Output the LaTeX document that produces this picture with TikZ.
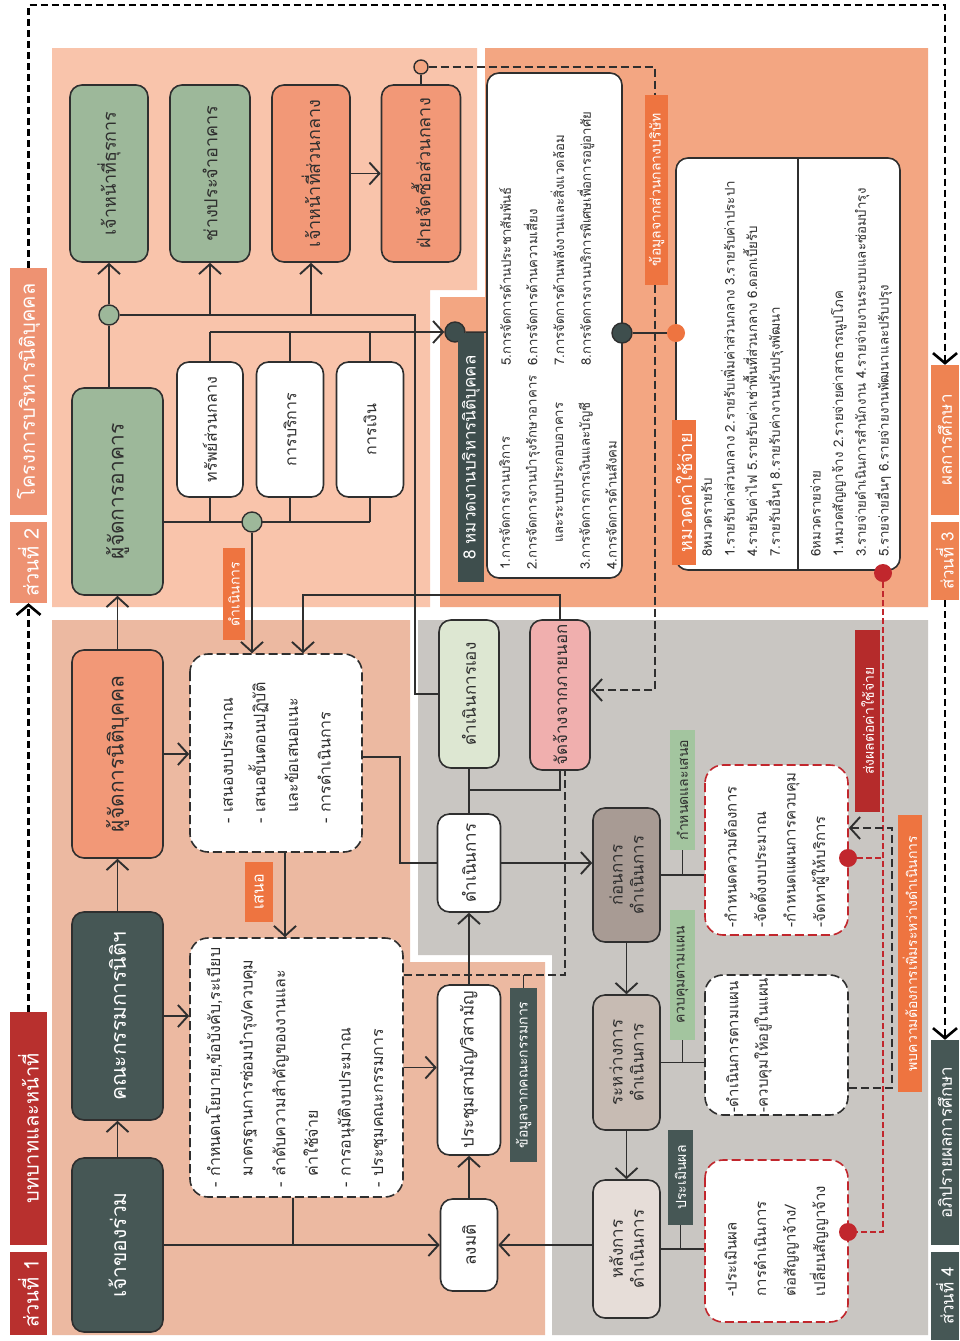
\documentclass[tikz,border=0pt]{standalone}
\usepackage{fontspec}
\setmainfont[Script=Thai]{Loma}
\usetikzlibrary{arrows.meta}
\pgfdeclarelayer{background}
\pgfdeclarelayer{wires}
\pgfsetlayers{background,wires,main}
\definecolor{ink}{HTML}{2F2F2F}
\definecolor{peach}{HTML}{F9C4AB}
\definecolor{orangebg}{HTML}{F3A682}
\definecolor{salmonbg}{HTML}{ECB9A1}
\definecolor{greybg}{HTML}{C9C6C2}
\definecolor{slate}{HTML}{465755}
\definecolor{coral}{HTML}{F29877}
\definecolor{sage}{HTML}{9DB89A}
\definecolor{paleg}{HTML}{DDE7D2}
\definecolor{pinkbox}{HTML}{F0AFAE}
\definecolor{taupeA}{HTML}{A89B94}
\definecolor{taupeB}{HTML}{C7BBB3}
\definecolor{taupeC}{HTML}{E6DDD8}
\definecolor{redlab}{HTML}{B8302E}
\definecolor{orlab}{HTML}{EE7440}
\definecolor{seclab}{HTML}{EE9272}
\definecolor{reslab}{HTML}{EE8352}
\definecolor{greenlab}{HTML}{A3C59F}
\definecolor{dred}{HTML}{C1272D}
\definecolor{wine}{HTML}{B52B2B}
\definecolor{darklab}{HTML}{3E4E4D}
\begin{document}
\begin{tikzpicture}[x=1pt,y=-1pt,
  every node/.style={rotate=90},
  sz/.style 2 args={minimum width=#1pt, minimum height=#2pt},
  fs/.style 2 args={font=\fontsize{#1}{#2}\selectfont},
  box/.style={draw=ink, line width=1.6pt, rounded corners=12pt, align=center,
    inner sep=2pt, text=ink, fs={17}{21}},
  dbox/.style={draw=ink, fill=white, line width=1.6pt, dash pattern=on 9pt off 4pt,
    rounded corners=18pt, align=left, inner sep=2pt, text=ink, fs={16}{32.6}},
  tag/.style={inner sep=0pt, text=white, fs={14}{16}},
  sec/.style={inner sep=0pt, text=white, fs={20}{22}},
  dot/.style={circle, draw=ink, line width=1.4pt, minimum size=#1pt, inner sep=0pt},
  spot/.style={circle, minimum size=18pt, inner sep=0pt},
  txt/.style={anchor=north west, inner sep=0pt, align=left, text=ink},
  conn/.style={draw=ink, line width=1.6pt},
  tipB/.style={-{Straight Barb[length=10pt,width=22pt,line width=1.9pt]}},
  arr/.style={conn, tipB},
  dsh/.style={conn, dash pattern=on 8pt off 4pt},
  darr/.style={dsh, tipB},
  rdsh/.style={draw=dred, line width=1.6pt, dash pattern=on 6pt off 3pt},
  outer/.style={draw=black, line width=2.6pt, dash pattern=on 7pt off 4pt,
    -{Straight Barb[length=10pt,width=24pt,line width=2.6pt]}},
]
\useasboundingbox (0,0) rectangle (960,1341);

% ---------- shaded areas ----------
\begin{pgfonlayer}{background}
\fill[white] (0,0) rectangle (960,1341);
\fill[peach] (52,48) -- (477,48) -- (477,290) -- (430,290) -- (430,607) -- (52,607) -- cycle;
\fill[orangebg] (485,48) -- (928,48) -- (928,607) -- (440,607) -- (440,297) -- (485,297) -- cycle;
\fill[salmonbg] (52,620) -- (410,620) -- (410,962) -- (545,962) -- (545,1335) -- (52,1335) -- cycle;
\fill[greybg] (418,620) -- (928,620) -- (928,1335) -- (552,1335) -- (552,955) -- (418,955) -- cycle;
\end{pgfonlayer}

% ---------- part headings ----------
\node[sec, fill=redlab, sz={83}{37}] (s1) at (28.5,1293.5) {ส่วนที่ 1};
\node[sec, fill=redlab, sz={233}{37}] (s1b) at (28.5,1128.5) {บทบาทและหน้าที่};
\node[sec, fill=seclab, sz={81}{37}] (s2) at (28.5,562.5) {ส่วนที่ 2};
\node[sec, fill=seclab, sz={247}{37}] (s2b) at (28.5,391.5) {โครงการบริหารนิติบุคคล};
\node[sec, fill=reslab, sz={78}{28}, fs={17}{19}] (s3) at (945,561) {ส่วนที่ 3};
\node[sec, fill=reslab, sz={150}{28}, fs={17}{19}] (s3b) at (945,440) {ผลการศึกษา};
\node[sec, fill=slate, sz={88}{28}, fs={17}{19}] (s4) at (945,1296) {ส่วนที่ 4};
\node[sec, fill=slate, sz={205}{28}, fs={17}{19}] (s4b) at (945,1142.5) {อภิปรายผลการศึกษา};

% ---------- owners and management ----------
\node[box, fill=slate, text=white, sz={174}{91}, fs={21}{25}] (n1) at (117.5,1245) {เจ้าของร่วม};
\node[box, fill=slate, text=white, sz={208}{91}, fs={21}{25}] (n2) at (117.5,1016) {คณะกรรมการนิติฯ};
\node[box, fill=coral, sz={208}{91}, fs={21}{25}] (n3) at (117.5,754) {ผู้จัดการนิติบุคคล};
\node[box, fill=sage, sz={207}{91}, fs={21}{25}] (n4) at (117.5,491.5) {ผู้จัดการอาคาร};

% ---------- staff ----------
\node[box, fill=sage, sz={177}{78}, fs={18}{22}] (t1) at (109,173.5) {เจ้าหน้าที่ธุรการ};
\node[box, fill=sage, sz={177}{80}, fs={18}{22}] (t2) at (210,173.5) {ช่างประจำอาคาร};
\node[box, fill=coral, sz={177}{78}, fs={18}{22}] (t3) at (311,173.5) {เจ้าหน้าที่ส่วนกลาง};
\node[box, fill=coral, sz={177}{79}, fs={18}{22}] (t4) at (421,173.5) {ฝ่ายจัดซื้อส่วนกลาง};

% ---------- support units ----------
\node[box, fill=white, sz={135}{66}, fs={16}{19}] (m1) at (210,429.5) {ทรัพย์ส่วนกลาง};
\node[box, fill=white, sz={135}{67}, fs={16}{19}] (m2) at (290,429.5) {การบริการ};
\node[box, fill=white, sz={135}{67}, fs={16}{19}] (m3) at (370,429.5) {การเงิน};

% ---------- junction dots ----------
\node[dot=20, fill=sage] (c1) at (109,315) {};
\node[dot=20, fill=sage] (c2) at (252,522) {};
\node[dot=14, fill=orangebg] (cp) at (421,67) {};
\node[dot=20, fill=darklab] (c8) at (455,332) {};

% ---------- proposals and policy ----------
\node[dbox, sz={198}{172}] (b1) at (276,753) {- เสนองบประมาณ\\- เสนอขั้นตอนปฏิบัติ\\\phantom{- }และข้อเสนอแนะ\\- การดำเนินการ};
\node[dbox, sz={259}{213}] (b2) at (296.5,1067.5) {- กำหนดนโยบาย,ข้อบังคับ,ระเบียบ\\\phantom{- }มาตรฐานการซ่อมบำรุง/ควบคุม\\- ลำดับความสำคัญของงานและ\\\phantom{- }ค่าใช้จ่าย\\- การอนุมัติงบประมาณ\\- ประชุมคณะกรรมการ};

% ---------- meetings and operation ----------
\node[box, fill=white, sz={92}{57}] (lm) at (469,1245) {ลงมติ};
\node[box, fill=white, sz={170}{63}] (pr) at (469,1070) {ประชุมสามัญ/วิสามัญ};
\node[box, fill=white, sz={98}{63}] (dn) at (469,863) {ดำเนินการ};
\node[box, fill=paleg, sz={148}{60}] (de) at (469,694) {ดำเนินการเอง};
\node[box, fill=pinkbox, sz={150}{60}] (jj) at (560,695) {จัดจ้างจากภายนอก};

% ---------- phases ----------
\node[box, fill=taupeA, sz={134}{67}] (pre) at (626.5,875) {ก่อนการ\\ดำเนินการ};
\node[box, fill=taupeB, sz={135}{67}] (mid) at (626.5,1062.5) {ระหว่างการ\\ดำเนินการ};
\node[box, fill=taupeC, sz={138}{67}] (post) at (626.5,1249) {หลังการ\\ดำเนินการ};

\node[dbox, draw=dred, sz={170}{143}, fs={15}{29.5}] (dA) at (776.5,850) {-กำหนดความต้องการ\\-จัดตั้งงบประมาณ\\-กำหนดแผนการควบคุม\\-จัดหาผู้ให้บริการ};
\node[dbox, sz={140}{143}, fs={15}{29.5}] (dB) at (776.5,1045) {-ดำเนินการตามแผน\\-ควบคุมให้อยู่ในแผน\\\mbox{}\\\mbox{}};
\node[dbox, draw=dred, sz={162}{143}, fs={15}{29.5}] (dC) at (776.5,1241) {-ประเมินผล\\การดำเนินการ\\ต่อสัญญาจ้าง/\\เปลี่ยนสัญญาจ้าง};

\node[spot, fill=dred] (cA) at (848,858) {};
\node[spot, fill=dred] (cC) at (848,1232) {};

% ---------- tags ----------
\node[tag, fill=orlab, sz={92}{22}] (lop) at (234,594) {ดำเนินการ};
\node[tag, fill=orlab, sz={60}{28}, fs={16}{18}] (lpr) at (259,892) {เสนอ};
\node[tag, fill=slate, sz={174}{27}] (ck) at (523.5,1075) {ข้อมูลจากคณะกรรมการ};
\node[tag, fill=greenlab, text=ink, sz={120}{25}] (la) at (682.5,790) {กำหนดและเสนอ};
\node[tag, fill=greenlab, text=ink, sz={130}{25}] (lb) at (682.5,975) {ควบคุมตามแผน};
\node[tag, fill=slate, sz={95}{25}] (lc) at (680.5,1177.5) {ประเมินผล};
\node[tag, fill=wine, sz={182}{25}] (lr) at (867.5,721) {ส่งผลต่อค่าใช้จ่าย};
\node[tag, fill=orlab, sz={277}{24}] (lf) at (910,953.5) {พบความต้องการเพิ่มระหว่างดำเนินการ};

% ---------- work categories ----------
\node[tag, fill=darklab, sz={249}{26}, fs={17}{19}] (l8) at (471,457.5) {8 หมวดงานบริหารนิติบุคคล};
\node[box, fill=white, sz={505}{135}] (wl) at (554.5,325.5) {};
\node[txt, fs={13.2}{26.7}] (w1) at (499,570) {1.การจัดการงานบริการ\\2.การจัดการงานบำรุงรักษาอาคาร\\\hspace{27pt}และระบบประกอบอาคาร\\3.การจัดการการเงินและบัญชี\\4.การจัดการด้านสังคม};
\node[txt, fs={13.2}{26.7}] (w2) at (499,366) {5.การจัดการด้านประชาสัมพันธ์\\6.การจัดการด้านความเสี่ยง\\7.การจัดการด้านพลังงานและสิ่งแวดล้อม\\8.การจัดการงานบริการพิเศษเพื่อการอยู่อาศัย};
\node[tag, fill=orlab, sz={190}{23}] (ls) at (656.5,190) {ข้อมูลจากส่วนกลางบริษัท};
\node[dot=20, fill=darklab] (cw) at (622,333) {};

% ---------- income and expense ----------
\node[box, fill=white, sz={412}{224}] (cb) at (788,364) {};
\coordinate (dv) at (798,0);
\draw[conn] (cb.east -| dv) -- (cb.west -| dv);
\node[txt, fs={13.3}{22.7}] (ci) at (701,557) {8หมวดรายรับ\\1.รายรับค่าส่วนกลาง 2.รายรับเพิ่มค่าส่วนกลาง 3.รายรับค่าประปา\\4.รายรับค่าไฟ 5.รายรับค่าเช่าพื้นที่ส่วนกลาง 6.ดอกเบี้ยรับ\\7.รายรับอื่นๆ 8.รายรับค่างานปรับปรุงพัฒนา};
\node[txt, fs={13.3}{22.7}] (ce) at (810,557) {6หมวดรายจ่าย\\1.หมวดสัญญาจ้าง 2.รายจ่ายค่าสาธารณูปโภค\\3.รายจ่ายดำเนินการสำนักงาน 4.รายจ่ายงานระบบและซ่อมบำรุง\\5.รายจ่ายอื่นๆ 6.รายจ่ายงานพัฒนาและปรับปรุง};
\node[tag, fill=orlab, sz={145}{24}, fs={18}{20}] (lx) at (684,492.5) {หมวดค่าใช้จ่าย};
\node[spot, fill=orlab] (co) at (676,333) {};
\node[spot, fill=dred] (cR) at (883,573) {};

% ---------- helper corners ----------
\coordinate (hStaff) at (415,315);
\coordinate (hOut) at (303,595);
\coordinate (xB) at (285,0);
\coordinate (xM) at (293,0);
\coordinate (dK) at (565,975);
\coordinate (bJ) at (400,757);
\coordinate (jA) at (469,790);
\coordinate (dTop) at (655,67);
\coordinate (dBot) at (655,690);
\coordinate (kB) at (892,1088);
\coordinate (kA) at (892,828);
\coordinate (rA) at (883,858);
\coordinate (rC) at (883,1232);
\coordinate (o1) at (28.5,5);
\coordinate (o2) at (945,5);

% ---------- connectors ----------
\begin{pgfonlayer}{wires}
\draw[outer] (s2b) -- (o1) -- (o2) -- (s3b);
\draw[outer] (s1b) -- (s2);
\draw[outer] (s3) -- (s4b);

\draw[arr] (n1) -- (n2);
\draw[arr] (n2) -- (n3);
\draw[arr] (n3) -- (n4);

\draw[conn] (n4.east -| c1) -- (c1);
\draw[arr] (c1) -- (t1);
\draw[conn] (c1) -- (hStaff) |- (de);
\draw[arr] (t2 |- c1) -- (t2);
\draw[arr] (t3 |- c1) -- (t3);
\draw[arr] (t3) -- (t4);
\draw[conn] (cp) -- (t4);

\foreach \m in {m1,m2,m3} {
  \draw[conn] (\m |- c8) -- (\m);
  \draw[conn] (\m |- c2) -- (\m);
}
\draw[arr] (m1 |- c8) -- (c8);
\draw[conn] (n4.south |- c2) -- (m3 |- c2);
\draw[arr] (c2) -- (c2 |- b1.east);
\draw[arr] (jj) |- (hOut) -- (hOut |- b1.east);

\draw[arr] (n3) -- (n3 -| b1.north);
\draw[arr] (n2) -- (n2 -| b2.north);
\draw[arr] (b1.west -| xB) -- (b2.east -| xB);
\draw[conn] (b2.west -| xM) -- (xM |- lm);
\draw[arr] (n1) -- (lm);
\draw[arr] (b2.south) -- (b2.south -| pr.north);
\draw[dsh] (b2.south |- dK) -- (dK) -- (dK |- jj.west);
\draw[conn] (ck) -- (ck |- dK);
\draw[conn] (b1.south |- bJ) -- (bJ) |- (dn);

\draw[arr] (lm) -- (pr);
\draw[arr] (pr) -- (dn);
\draw[conn] (dn) -- (de);
\draw[conn] (jA) -| (jj);
\draw[arr] (dn) -- (dn -| pre.north);

\draw[arr] (pre) -- (mid);
\draw[arr] (mid) -- (post);
\draw[arr] (post.north |- lm) -- (lm);
\draw[conn] (pre) -- (pre -| dA.north);
\draw[conn] (mid) -- (mid -| dB.north);
\draw[conn] (post) -- (post -| dC.north);
\draw[conn] (la) -- (la |- pre);
\draw[conn] (lb) -- (lb |- mid);
\draw[conn] (lc) -- (lc |- post);

\draw[darr] (cp) -- (dTop) -- (dBot) -- (dBot -| jj.south);
\draw[conn] (c8) -- (cw);
\draw[conn] (cw) -- (co);
\draw[rdsh] (cA) -- (rA);
\draw[rdsh] (cR) -- (rC) -- (cC);
\draw[darr] (dB.south |- kB) -- (kB) -- (kA) -- (kA -| dA.south);
\end{pgfonlayer}
\end{tikzpicture}
\end{document}
